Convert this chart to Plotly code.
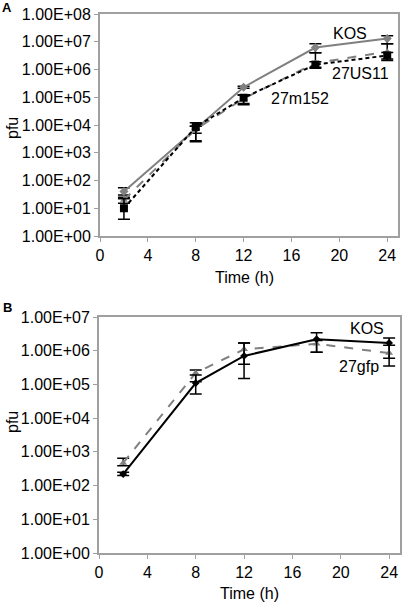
import plotly.graph_objects as go

time_h = [2, 8, 12, 18, 24]

# Panel A
a_kos = [40, 7000, 2.3e5, 6.2e6, 1.3e7]
a_kos_up = [15, 2000, 2e4, 2.3e6, 3.5e6]
a_kos_dn = [10, 2000, 2e4, 2.2e6, 4.5e6]
a_us11 = [20, 7000, 9e4, 1.7e6, 4.4e6]
a_us11_up = [5, 2000, 3e4, 2.3e6, 4e6]
a_us11_dn = [5, 4300, 3e4, 6e5, 2e6]
a_m152 = [10, 8500, 9.6e4, 1.5e6, 3.2e6]
a_m152_up = [12, 3500, 2.4e4, 4e5, 9e5]
a_m152_dn = [6, 6000, 4.2e4, 3e5, 1.1e6]

# Panel B
b_kos = [220, 1.1e5, 7e5, 2.2e6, 1.7e6]
b_kos_up = [30, 8e4, 1e6, 1.2e6, 7e5]
b_kos_dn = [20, 5.8e4, 5.5e5, 1.3e6, 1.1e6]
b_gfp = [470, 2.2e5, 1.1e6, 1.6e6, 8.5e5]
b_gfp_up = [180, 5e4, 6e5, 4e5, 6e5]
b_gfp_dn = [80, 1e5, 7e5, 7e5, 5e5]

a_ticks = [10 ** k for k in range(0, 9)]
a_ticktext = ["1.00E+0%d" % k for k in range(0, 9)]
b_ticks = [10 ** k for k in range(0, 8)]
b_ticktext = ["1.00E+0%d" % k for k in range(0, 8)]
x_ticks = [0, 4, 8, 12, 16, 20, 24]

FONT = "Liberation Sans, Arial, sans-serif"
GRAY = "#808080"
AX = "#a0a0a0"
FS = 16
W, H = 402, 602

fig = go.Figure()

def err(up, dn):
    return dict(type="data", symmetric=False, array=up, arrayminus=dn,
                color="black", thickness=1.5, width=6)

fig.add_trace(go.Scatter(x=time_h, y=a_kos, mode="lines+markers", name="KOS",
                         line=dict(color=GRAY, width=2),
                         marker=dict(symbol="diamond", size=7, color=GRAY),
                         error_y=err(a_kos_up, a_kos_dn), xaxis="x", yaxis="y"))
fig.add_trace(go.Scatter(x=time_h, y=a_us11, mode="lines+markers", name="27US11",
                         line=dict(color=GRAY, width=2, dash="dash"),
                         marker=dict(symbol="triangle-up", size=7, color=GRAY),
                         error_y=err(a_us11_up, a_us11_dn), xaxis="x", yaxis="y"))
fig.add_trace(go.Scatter(x=time_h, y=a_m152, mode="lines+markers", name="27m152",
                         line=dict(color="black", width=2, dash="4px,3px"),
                         marker=dict(symbol="square", size=8, color="black"),
                         error_y=err(a_m152_up, a_m152_dn), xaxis="x", yaxis="y"))

fig.add_trace(go.Scatter(x=time_h, y=b_gfp, mode="lines+markers", name="27gfp",
                         line=dict(color=GRAY, width=2, dash="dash"),
                         marker=dict(symbol="triangle-up", size=7, color=GRAY),
                         error_y=err(b_gfp_up, b_gfp_dn), xaxis="x2", yaxis="y2"))
fig.add_trace(go.Scatter(x=time_h, y=b_kos, mode="lines+markers", name="KOS",
                         line=dict(color="black", width=2),
                         marker=dict(symbol="diamond", size=6, color="black"),
                         error_y=err(b_kos_up, b_kos_dn), xaxis="x2", yaxis="y2"))

axis_common = dict(showline=True, linecolor=AX, linewidth=2, mirror=True,
                   showgrid=False, zeroline=False, ticks="outside",
                   ticklen=4, tickcolor=AX, automargin=False,
                   tickfont=dict(family=FONT, size=FS, color="black"))

fig.update_layout(
    width=W, height=H, margin=dict(l=0, r=0, t=0, b=0, autoexpand=False),
    paper_bgcolor="white", plot_bgcolor="white", showlegend=False,
    font=dict(family=FONT, color="black"),
    xaxis=dict(domain=[100 / W, 398 / W], anchor="y", range=[0, 24.9],
               tickvals=x_ticks, **axis_common),
    yaxis=dict(domain=[1 - 236 / H, 1 - 14 / H], anchor="x", type="log", range=[0, 8],
               tickvals=a_ticks, ticktext=a_ticktext, **axis_common),
    xaxis2=dict(domain=[99 / W, 400 / W], anchor="y2", range=[0, 24.9],
                tickvals=x_ticks, **axis_common),
    yaxis2=dict(domain=[1 - 553 / H, 1 - 317 / H], anchor="x2", type="log", range=[0, 7],
                tickvals=b_ticks, ticktext=b_ticktext, **axis_common),
)

def paper_text(text, px, py, size=FS, angle=0, bold=False):
    fig.add_annotation(text=("<b>%s</b>" % text) if bold else text,
                       x=px / W, y=1 - py / H, xref="paper", yref="paper",
                       xanchor="center", yanchor="middle", showarrow=False,
                       textangle=angle,
                       font=dict(family=FONT, size=size, color="black"))

paper_text("A", 7, 8, size=13, bold=True)
paper_text("B", 7, 307, size=13, bold=True)
paper_text("pfu", 12, 128, angle=-90)
paper_text("pfu", 12, 422, angle=-90)
paper_text("Time (h)", 244, 277)
paper_text("Time (h)", 249, 593)

ann_font = dict(family=FONT, size=FS, color="black")
fig.add_annotation(text="KOS", x=19.3, y=7.3, xref="x", yref="y", showarrow=False,
                   xanchor="left", font=ann_font)
fig.add_annotation(text="27US11", x=19.2, y=5.85, xref="x", yref="y", showarrow=False,
                   xanchor="left", font=ann_font)
fig.add_annotation(text="27m152", x=14.1, y=4.95, xref="x", yref="y", showarrow=False,
                   xanchor="left", font=ann_font)
fig.add_annotation(text="KOS", x=20.6, y=6.65, xref="x2", yref="y2", showarrow=False,
                   xanchor="left", font=ann_font)
fig.add_annotation(text="27gfp", x=19.7, y=5.52, xref="x2", yref="y2", showarrow=False,
                   xanchor="left", font=ann_font)

fig.write_html("out.html", config={"displayModeBar": False},
               post_script="document.body.style.margin='0';document.body.style.overflow='hidden';")
